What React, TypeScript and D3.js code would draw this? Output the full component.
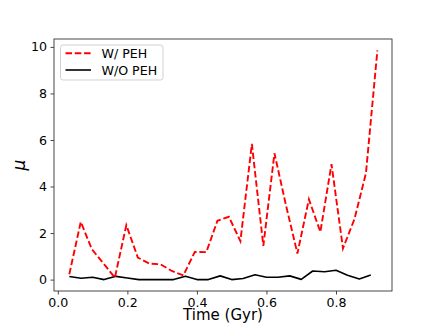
import { useEffect, useRef } from "react";
import * as d3 from "d3";

// time (Gyr) for each run
const timeWithPEH = [
  0.033, 0.066, 0.098, 0.131, 0.164, 0.197, 0.23, 0.263, 0.295, 0.328, 0.361,
  0.394, 0.427, 0.459, 0.492, 0.525, 0.558, 0.591, 0.623, 0.656, 0.689, 0.722,
  0.755, 0.787, 0.82, 0.853, 0.886, 0.919,
];
const muWithPEH = [
  0.23, 2.48, 1.3, 0.7, 0.08, 2.34, 0.95, 0.69, 0.66, 0.37, 0.18, 1.19, 1.18,
  2.53, 2.7, 1.65, 5.83, 1.45, 5.43, 3.2, 1.12, 3.45, 2.05, 4.96, 1.34, 2.6,
  4.57, 9.85,
];
const timeWithoutPEH = [
  0.033, 0.067, 0.1, 0.133, 0.167, 0.2, 0.233, 0.267, 0.3, 0.333, 0.367, 0.4,
  0.433, 0.467, 0.5, 0.533, 0.567, 0.6, 0.633, 0.667, 0.7, 0.733, 0.767, 0.8,
  0.833, 0.867, 0.9,
];
const muWithoutPEH = [
  0.13, 0.06, 0.1, 0.0, 0.14, 0.07, 0.0, 0.0, 0.0, 0.0, 0.14, 0.0, 0.0, 0.16,
  0.0, 0.05, 0.21, 0.1, 0.1, 0.16, 0.01, 0.37, 0.34, 0.4, 0.19, 0.03, 0.2,
];
const xTicks = [0, 0.2, 0.4, 0.6, 0.8];
const yTicks = [0, 2, 4, 6, 8, 10];
const seriesLabels = ["W/ PEH", "W/O PEH"];

const FONT = "DejaVu Sans, sans-serif";

export default function App() {
  const ref = useRef<SVGSVGElement>(null);

  useEffect(() => {
    const svg = d3.select(ref.current);
    svg.selectAll("*").remove();

    const width = 436;
    const height = 327;
    const box = { left: 54, right: 392, top: 39, bottom: 291 };

    const x = d3.scaleLinear().domain([-0.011, 0.961]).range([box.left, box.right]);
    const y = d3.scaleLinear().domain([-0.49, 10.34]).range([box.bottom, box.top]);

    svg.append("rect").attr("width", width).attr("height", height).attr("fill", "#fff");

    const line = d3
      .line<[number, number]>()
      .x((d) => x(d[0]))
      .y((d) => y(d[1]));

    // W/O PEH (solid black)
    svg
      .append("path")
      .datum(timeWithoutPEH.map((t, i) => [t, muWithoutPEH[i]] as [number, number]))
      .attr("d", line)
      .attr("fill", "none")
      .attr("stroke", "#000")
      .attr("stroke-width", 1.6)
      .attr("stroke-linejoin", "round");

    // W/ PEH (dashed red)
    svg
      .append("path")
      .datum(timeWithPEH.map((t, i) => [t, muWithPEH[i]] as [number, number]))
      .attr("d", line)
      .attr("fill", "none")
      .attr("stroke", "#ff0000")
      .attr("stroke-width", 1.9)
      .attr("stroke-dasharray", "6.5,2.8");

    // frame
    svg
      .append("rect")
      .attr("x", box.left)
      .attr("y", box.top)
      .attr("width", box.right - box.left)
      .attr("height", box.bottom - box.top)
      .attr("fill", "none")
      .attr("stroke", "#333")
      .attr("stroke-width", 0.9);

    const xAxis = svg
      .append("g")
      .attr("transform", `translate(0,${box.bottom})`)
      .call(d3.axisBottom(x).tickValues(xTicks).tickFormat(d3.format(".1f")).tickSize(3.5).tickPadding(3.5));
    const yAxis = svg
      .append("g")
      .attr("transform", `translate(${box.left},0)`)
      .call(d3.axisLeft(y).tickValues(yTicks).tickFormat(d3.format("d")).tickSize(3.5).tickPadding(3.5));

    [xAxis, yAxis].forEach((g) => {
      g.select(".domain").remove();
      g.selectAll("line").attr("stroke", "#333").attr("stroke-width", 0.9);
      g.selectAll("text").attr("font-family", FONT).attr("font-size", 12.6).attr("fill", "#000");
    });

    svg
      .append("text")
      .attr("x", (box.left + box.right) / 2)
      .attr("y", 320)
      .attr("text-anchor", "middle")
      .attr("font-family", FONT)
      .attr("font-size", 15)
      .text("Time (Gyr)");

    svg
      .append("text")
      .attr("transform", `translate(24.5,${(box.top + box.bottom) / 2}) rotate(-90)`)
      .attr("text-anchor", "middle")
      .attr("font-family", FONT)
      .attr("font-style", "italic")
      .attr("font-size", 17)
      .text("μ");

    // legend
    const legend = svg.append("g");
    legend
      .append("rect")
      .attr("x", 60.5)
      .attr("y", 45)
      .attr("width", 102.5)
      .attr("height", 35)
      .attr("rx", 2.5)
      .attr("fill", "#fff")
      .attr("fill-opacity", 0.8)
      .attr("stroke", "#ccc")
      .attr("stroke-width", 0.9);

    const rows = [53.3, 70];
    seriesLabels.forEach((label, i) => {
      legend
        .append("line")
        .attr("x1", 65.5)
        .attr("x2", 91)
        .attr("y1", rows[i])
        .attr("y2", rows[i])
        .attr("stroke", i === 0 ? "#ff0000" : "#000")
        .attr("stroke-width", i === 0 ? 1.9 : 1.6)
        .attr("stroke-dasharray", i === 0 ? "6.5,2.8" : null);
      legend
        .append("text")
        .attr("x", 101.5)
        .attr("y", rows[i] + 4.5)
        .attr("font-family", FONT)
        .attr("font-size", 12.6)
        .text(label);
    });
  }, []);

  return (
    <svg
      ref={ref}
      width={436}
      height={327}
      style={{ position: "absolute", left: 0, top: 0 }}
    />
  );
}
